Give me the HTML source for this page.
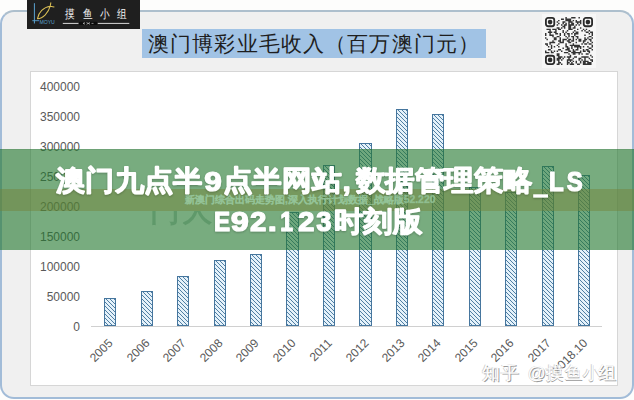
<!DOCTYPE html>
<html><head><meta charset="utf-8"><style>
*{margin:0;padding:0;box-sizing:border-box}
html,body{width:634px;height:400px;overflow:hidden;background:#fdfdfc;font-family:"Liberation Sans",sans-serif}
#frame{position:absolute;left:0px;top:10px;width:634px;height:389px;border:2px solid #a2bcd8;border-top-color:#adbfcd;border-radius:14px;background:#f0f0f0}
#logo{position:absolute;left:27px;top:0;width:113px;height:29px;background:#1f1f1f}
#title{position:absolute;left:142px;top:29px;width:344px;height:29px;background:#a1c3e5;color:#1e1e1e;font-size:20.5px;line-height:29px;padding-left:6px;letter-spacing:1.15px;white-space:nowrap}
#qrbg{position:absolute;left:542px;top:14px;width:54px;height:54px;background:#f7f7f7}
#qr{position:absolute;left:545px;top:17px}
#plot{position:absolute;left:30px;top:71px;width:588px;height:315px;background:#fff;border:1px solid #d6d6d6}
.yl{position:absolute;right:554px;width:60px;text-align:right;font-size:12px;line-height:14px;color:#595959}
#base{position:absolute;left:91px;top:325.5px;width:511px;height:1px;background:#d0d0d0}
.bar{position:absolute;width:12.3px;border:1.2px solid #46769e;background-color:#e4f1fa;background-image:linear-gradient(45deg,#4f7ea3 0%,#4f7ea3 18%,#e4f1fa 18%,#e4f1fa 50%,#4f7ea3 50%,#4f7ea3 68%,#e4f1fa 68%);background-size:4px 4px}
.xl{position:absolute;font-size:12px;line-height:14px;color:#595959;white-space:nowrap;transform:rotate(-45deg);transform-origin:100% 50%}
#wm{position:absolute;left:0;top:0}
#banner{position:absolute;left:0;top:148.5px;width:634px;height:101px;background:rgba(37,121,48,0.62);box-shadow:inset 0 1px 0 rgba(0,50,10,0.08)}
#band{position:absolute;left:0;top:188.5px;width:634px;height:22px;background:rgba(116,131,58,0.465)}
#sub{position:absolute;left:185px;top:194.2px;font-size:10.4px;line-height:12px;font-weight:bold;color:rgba(155,205,165,0.68);-webkit-text-stroke:0.5px rgba(155,205,165,0.5);white-space:nowrap}
#ttl{position:absolute;left:0;top:0}
</style></head><body>
<div id="frame"></div>
<div id="logo">
<svg width="113" height="29" viewBox="0 0 113 29">
<line x1="7.4" y1="3.2" x2="7.4" y2="23.5" stroke="#5aa2cf" stroke-width="1"/>
<line x1="5.3" y1="20.7" x2="12" y2="20.7" stroke="#5aa2cf" stroke-width="0.9"/>
<path d="M10.5 18.6 C11.5 12.5 16.5 7 23.2 6.2 L27 6.9 M10.5 18.6 C16 18.6 21.5 12.5 23.2 6.2 L23.8 2.8" fill="none" stroke="#d8bd55" stroke-width="1.05" stroke-linecap="round"/>
<text x="12.4" y="23.8" font-size="5.2" fill="#5aa2cf" font-family="Liberation Sans" textLength="15.4" lengthAdjust="spacingAndGlyphs">MOYU</text>
<g font-size="12.2" fill="#f2f2f2" font-family="Liberation Sans"><text transform="translate(38.4 17.5) scale(0.8 1)">摸</text><text transform="translate(56.0 17.5) scale(0.8 1)">鱼</text><text transform="translate(73.4 17.5) scale(0.8 1)">小</text><text transform="translate(90.0 17.5) scale(0.8 1)">组</text></g>
<line x1="35.8" y1="23.4" x2="51.7" y2="23.4" stroke="#eee" stroke-width="0.9"/>
<line x1="70.5" y1="23.4" x2="102.3" y2="23.4" stroke="#eee" stroke-width="0.9"/>
<rect x="51.7" y="21.7" width="18.8" height="3.4" rx="1.5" fill="#0d0d0d"/>
<path d="M56 23.4 L58 22.6 M56 23.4 L58 24.2 M59.5 22.5 L63 24.3 M59.5 24.3 L63 22.5 M64.5 23.4 L66.5 23.4" stroke="#ddd" stroke-width="0.6" fill="none"/>
</svg>
</div>
<div id="title">澳门博彩业毛收入（百万澳门元）</div>
<div id="qrbg"></div>
<svg id="qr" width="48" height="48" viewBox="0 0 47.5 47.5" fill="#333"><path d="M20.15 0.00h1.44v1.44h-1.44zM25.91 0.00h1.44v1.44h-1.44zM27.35 0.00h1.44v1.44h-1.44zM28.79 0.00h1.44v1.44h-1.44zM33.11 0.00h1.44v1.44h-1.44zM15.83 1.44h1.44v1.44h-1.44zM17.27 1.44h1.44v1.44h-1.44zM20.15 1.44h1.44v1.44h-1.44zM21.59 1.44h1.44v1.44h-1.44zM23.03 1.44h1.44v1.44h-1.44zM24.47 1.44h1.44v1.44h-1.44zM12.95 2.88h1.44v1.44h-1.44zM20.15 2.88h1.44v1.44h-1.44zM21.59 2.88h1.44v1.44h-1.44zM23.03 2.88h1.44v1.44h-1.44zM24.47 2.88h1.44v1.44h-1.44zM27.35 2.88h1.44v1.44h-1.44zM30.23 2.88h1.44v1.44h-1.44zM34.55 2.88h1.44v1.44h-1.44zM11.52 4.32h1.44v1.44h-1.44zM17.27 4.32h1.44v1.44h-1.44zM18.71 4.32h1.44v1.44h-1.44zM23.03 4.32h1.44v1.44h-1.44zM24.47 4.32h1.44v1.44h-1.44zM25.91 4.32h1.44v1.44h-1.44zM30.23 4.32h1.44v1.44h-1.44zM31.67 4.32h1.44v1.44h-1.44zM33.11 4.32h1.44v1.44h-1.44zM34.55 4.32h1.44v1.44h-1.44zM12.95 5.76h1.44v1.44h-1.44zM17.27 5.76h1.44v1.44h-1.44zM20.15 5.76h1.44v1.44h-1.44zM23.03 5.76h1.44v1.44h-1.44zM25.91 5.76h1.44v1.44h-1.44zM27.35 5.76h1.44v1.44h-1.44zM31.67 5.76h1.44v1.44h-1.44zM34.55 5.76h1.44v1.44h-1.44zM11.52 7.20h1.44v1.44h-1.44zM15.83 7.20h1.44v1.44h-1.44zM18.71 7.20h1.44v1.44h-1.44zM20.15 7.20h1.44v1.44h-1.44zM23.03 7.20h1.44v1.44h-1.44zM24.47 7.20h1.44v1.44h-1.44zM25.91 7.20h1.44v1.44h-1.44zM27.35 7.20h1.44v1.44h-1.44zM30.23 7.20h1.44v1.44h-1.44zM33.11 7.20h1.44v1.44h-1.44zM17.27 8.64h1.44v1.44h-1.44zM18.71 8.64h1.44v1.44h-1.44zM23.03 8.64h1.44v1.44h-1.44zM24.47 8.64h1.44v1.44h-1.44zM28.79 8.64h1.44v1.44h-1.44zM11.52 10.08h1.44v1.44h-1.44zM12.95 10.08h1.44v1.44h-1.44zM15.83 10.08h1.44v1.44h-1.44zM18.71 10.08h1.44v1.44h-1.44zM23.03 10.08h1.44v1.44h-1.44zM24.47 10.08h1.44v1.44h-1.44zM27.35 10.08h1.44v1.44h-1.44zM28.79 10.08h1.44v1.44h-1.44zM34.55 10.08h1.44v1.44h-1.44zM1.44 11.52h1.44v1.44h-1.44zM2.88 11.52h1.44v1.44h-1.44zM4.32 11.52h1.44v1.44h-1.44zM7.20 11.52h1.44v1.44h-1.44zM8.64 11.52h1.44v1.44h-1.44zM10.08 11.52h1.44v1.44h-1.44zM12.95 11.52h1.44v1.44h-1.44zM14.39 11.52h1.44v1.44h-1.44zM23.03 11.52h1.44v1.44h-1.44zM24.47 11.52h1.44v1.44h-1.44zM25.91 11.52h1.44v1.44h-1.44zM31.67 11.52h1.44v1.44h-1.44zM37.42 11.52h1.44v1.44h-1.44zM40.30 11.52h1.44v1.44h-1.44zM4.32 12.95h1.44v1.44h-1.44zM10.08 12.95h1.44v1.44h-1.44zM17.27 12.95h1.44v1.44h-1.44zM21.59 12.95h1.44v1.44h-1.44zM28.79 12.95h1.44v1.44h-1.44zM35.98 12.95h1.44v1.44h-1.44zM38.86 12.95h1.44v1.44h-1.44zM43.18 12.95h1.44v1.44h-1.44zM2.88 14.39h1.44v1.44h-1.44zM4.32 14.39h1.44v1.44h-1.44zM5.76 14.39h1.44v1.44h-1.44zM8.64 14.39h1.44v1.44h-1.44zM10.08 14.39h1.44v1.44h-1.44zM17.27 14.39h1.44v1.44h-1.44zM20.15 14.39h1.44v1.44h-1.44zM27.35 14.39h1.44v1.44h-1.44zM30.23 14.39h1.44v1.44h-1.44zM31.67 14.39h1.44v1.44h-1.44zM40.30 14.39h1.44v1.44h-1.44zM41.74 14.39h1.44v1.44h-1.44zM44.62 14.39h1.44v1.44h-1.44zM46.06 14.39h1.44v1.44h-1.44zM0.00 15.83h1.44v1.44h-1.44zM4.32 15.83h1.44v1.44h-1.44zM10.08 15.83h1.44v1.44h-1.44zM11.52 15.83h1.44v1.44h-1.44zM14.39 15.83h1.44v1.44h-1.44zM18.71 15.83h1.44v1.44h-1.44zM21.59 15.83h1.44v1.44h-1.44zM23.03 15.83h1.44v1.44h-1.44zM25.91 15.83h1.44v1.44h-1.44zM28.79 15.83h1.44v1.44h-1.44zM30.23 15.83h1.44v1.44h-1.44zM31.67 15.83h1.44v1.44h-1.44zM43.18 15.83h1.44v1.44h-1.44zM46.06 15.83h1.44v1.44h-1.44zM0.00 17.27h1.44v1.44h-1.44zM4.32 17.27h1.44v1.44h-1.44zM5.76 17.27h1.44v1.44h-1.44zM7.20 17.27h1.44v1.44h-1.44zM14.39 17.27h1.44v1.44h-1.44zM18.71 17.27h1.44v1.44h-1.44zM23.03 17.27h1.44v1.44h-1.44zM28.79 17.27h1.44v1.44h-1.44zM38.86 17.27h1.44v1.44h-1.44zM46.06 17.27h1.44v1.44h-1.44zM7.20 18.71h1.44v1.44h-1.44zM11.52 18.71h1.44v1.44h-1.44zM12.95 18.71h1.44v1.44h-1.44zM20.15 18.71h1.44v1.44h-1.44zM23.03 18.71h1.44v1.44h-1.44zM25.91 18.71h1.44v1.44h-1.44zM27.35 18.71h1.44v1.44h-1.44zM30.23 18.71h1.44v1.44h-1.44zM31.67 18.71h1.44v1.44h-1.44zM43.18 18.71h1.44v1.44h-1.44zM44.62 18.71h1.44v1.44h-1.44zM0.00 20.15h1.44v1.44h-1.44zM8.64 20.15h1.44v1.44h-1.44zM10.08 20.15h1.44v1.44h-1.44zM14.39 20.15h1.44v1.44h-1.44zM21.59 20.15h1.44v1.44h-1.44zM27.35 20.15h1.44v1.44h-1.44zM31.67 20.15h1.44v1.44h-1.44zM38.86 20.15h1.44v1.44h-1.44zM41.74 20.15h1.44v1.44h-1.44zM46.06 20.15h1.44v1.44h-1.44zM1.44 21.59h1.44v1.44h-1.44zM8.64 21.59h1.44v1.44h-1.44zM10.08 21.59h1.44v1.44h-1.44zM14.39 21.59h1.44v1.44h-1.44zM17.27 21.59h1.44v1.44h-1.44zM18.71 21.59h1.44v1.44h-1.44zM20.15 21.59h1.44v1.44h-1.44zM23.03 21.59h1.44v1.44h-1.44zM24.47 21.59h1.44v1.44h-1.44zM27.35 21.59h1.44v1.44h-1.44zM30.23 21.59h1.44v1.44h-1.44zM33.11 21.59h1.44v1.44h-1.44zM34.55 21.59h1.44v1.44h-1.44zM38.86 21.59h1.44v1.44h-1.44zM40.30 21.59h1.44v1.44h-1.44zM43.18 21.59h1.44v1.44h-1.44zM44.62 21.59h1.44v1.44h-1.44zM7.20 23.03h1.44v1.44h-1.44zM12.95 23.03h1.44v1.44h-1.44zM14.39 23.03h1.44v1.44h-1.44zM17.27 23.03h1.44v1.44h-1.44zM21.59 23.03h1.44v1.44h-1.44zM23.03 23.03h1.44v1.44h-1.44zM25.91 23.03h1.44v1.44h-1.44zM27.35 23.03h1.44v1.44h-1.44zM33.11 23.03h1.44v1.44h-1.44zM34.55 23.03h1.44v1.44h-1.44zM37.42 23.03h1.44v1.44h-1.44zM38.86 23.03h1.44v1.44h-1.44zM44.62 23.03h1.44v1.44h-1.44zM4.32 24.47h1.44v1.44h-1.44zM5.76 24.47h1.44v1.44h-1.44zM7.20 24.47h1.44v1.44h-1.44zM8.64 24.47h1.44v1.44h-1.44zM14.39 24.47h1.44v1.44h-1.44zM15.83 24.47h1.44v1.44h-1.44zM17.27 24.47h1.44v1.44h-1.44zM23.03 24.47h1.44v1.44h-1.44zM24.47 24.47h1.44v1.44h-1.44zM30.23 24.47h1.44v1.44h-1.44zM37.42 24.47h1.44v1.44h-1.44zM41.74 24.47h1.44v1.44h-1.44zM46.06 24.47h1.44v1.44h-1.44zM0.00 25.91h1.44v1.44h-1.44zM1.44 25.91h1.44v1.44h-1.44zM4.32 25.91h1.44v1.44h-1.44zM12.95 25.91h1.44v1.44h-1.44zM20.15 25.91h1.44v1.44h-1.44zM27.35 25.91h1.44v1.44h-1.44zM35.98 25.91h1.44v1.44h-1.44zM38.86 25.91h1.44v1.44h-1.44zM40.30 25.91h1.44v1.44h-1.44zM43.18 25.91h1.44v1.44h-1.44zM44.62 25.91h1.44v1.44h-1.44zM1.44 27.35h1.44v1.44h-1.44zM5.76 27.35h1.44v1.44h-1.44zM11.52 27.35h1.44v1.44h-1.44zM20.15 27.35h1.44v1.44h-1.44zM24.47 27.35h1.44v1.44h-1.44zM25.91 27.35h1.44v1.44h-1.44zM27.35 27.35h1.44v1.44h-1.44zM28.79 27.35h1.44v1.44h-1.44zM30.23 27.35h1.44v1.44h-1.44zM31.67 27.35h1.44v1.44h-1.44zM33.11 27.35h1.44v1.44h-1.44zM46.06 27.35h1.44v1.44h-1.44zM2.88 28.79h1.44v1.44h-1.44zM5.76 28.79h1.44v1.44h-1.44zM8.64 28.79h1.44v1.44h-1.44zM12.95 28.79h1.44v1.44h-1.44zM20.15 28.79h1.44v1.44h-1.44zM21.59 28.79h1.44v1.44h-1.44zM25.91 28.79h1.44v1.44h-1.44zM28.79 28.79h1.44v1.44h-1.44zM30.23 28.79h1.44v1.44h-1.44zM31.67 28.79h1.44v1.44h-1.44zM33.11 28.79h1.44v1.44h-1.44zM34.55 28.79h1.44v1.44h-1.44zM37.42 28.79h1.44v1.44h-1.44zM41.74 28.79h1.44v1.44h-1.44zM46.06 28.79h1.44v1.44h-1.44zM5.76 30.23h1.44v1.44h-1.44zM17.27 30.23h1.44v1.44h-1.44zM21.59 30.23h1.44v1.44h-1.44zM23.03 30.23h1.44v1.44h-1.44zM25.91 30.23h1.44v1.44h-1.44zM31.67 30.23h1.44v1.44h-1.44zM34.55 30.23h1.44v1.44h-1.44zM43.18 30.23h1.44v1.44h-1.44zM44.62 30.23h1.44v1.44h-1.44zM2.88 31.67h1.44v1.44h-1.44zM4.32 31.67h1.44v1.44h-1.44zM12.95 31.67h1.44v1.44h-1.44zM14.39 31.67h1.44v1.44h-1.44zM20.15 31.67h1.44v1.44h-1.44zM21.59 31.67h1.44v1.44h-1.44zM23.03 31.67h1.44v1.44h-1.44zM27.35 31.67h1.44v1.44h-1.44zM30.23 31.67h1.44v1.44h-1.44zM31.67 31.67h1.44v1.44h-1.44zM37.42 31.67h1.44v1.44h-1.44zM40.30 31.67h1.44v1.44h-1.44zM41.74 31.67h1.44v1.44h-1.44zM46.06 31.67h1.44v1.44h-1.44zM0.00 33.11h1.44v1.44h-1.44zM5.76 33.11h1.44v1.44h-1.44zM8.64 33.11h1.44v1.44h-1.44zM11.52 33.11h1.44v1.44h-1.44zM15.83 33.11h1.44v1.44h-1.44zM23.03 33.11h1.44v1.44h-1.44zM24.47 33.11h1.44v1.44h-1.44zM27.35 33.11h1.44v1.44h-1.44zM28.79 33.11h1.44v1.44h-1.44zM34.55 33.11h1.44v1.44h-1.44zM37.42 33.11h1.44v1.44h-1.44zM38.86 33.11h1.44v1.44h-1.44zM41.74 33.11h1.44v1.44h-1.44zM43.18 33.11h1.44v1.44h-1.44zM0.00 34.55h1.44v1.44h-1.44zM1.44 34.55h1.44v1.44h-1.44zM2.88 34.55h1.44v1.44h-1.44zM5.76 34.55h1.44v1.44h-1.44zM7.20 34.55h1.44v1.44h-1.44zM18.71 34.55h1.44v1.44h-1.44zM20.15 34.55h1.44v1.44h-1.44zM21.59 34.55h1.44v1.44h-1.44zM25.91 34.55h1.44v1.44h-1.44zM27.35 34.55h1.44v1.44h-1.44zM28.79 34.55h1.44v1.44h-1.44zM30.23 34.55h1.44v1.44h-1.44zM31.67 34.55h1.44v1.44h-1.44zM33.11 34.55h1.44v1.44h-1.44zM34.55 34.55h1.44v1.44h-1.44zM43.18 34.55h1.44v1.44h-1.44zM11.52 35.98h1.44v1.44h-1.44zM12.95 35.98h1.44v1.44h-1.44zM23.03 35.98h1.44v1.44h-1.44zM27.35 35.98h1.44v1.44h-1.44zM28.79 35.98h1.44v1.44h-1.44zM33.11 35.98h1.44v1.44h-1.44zM35.98 35.98h1.44v1.44h-1.44zM40.30 35.98h1.44v1.44h-1.44zM41.74 35.98h1.44v1.44h-1.44zM11.52 37.42h1.44v1.44h-1.44zM12.95 37.42h1.44v1.44h-1.44zM24.47 37.42h1.44v1.44h-1.44zM44.62 37.42h1.44v1.44h-1.44zM12.95 38.86h1.44v1.44h-1.44zM14.39 38.86h1.44v1.44h-1.44zM15.83 38.86h1.44v1.44h-1.44zM18.71 38.86h1.44v1.44h-1.44zM21.59 38.86h1.44v1.44h-1.44zM23.03 38.86h1.44v1.44h-1.44zM24.47 38.86h1.44v1.44h-1.44zM28.79 38.86h1.44v1.44h-1.44zM30.23 38.86h1.44v1.44h-1.44zM35.98 38.86h1.44v1.44h-1.44zM37.42 38.86h1.44v1.44h-1.44zM38.86 38.86h1.44v1.44h-1.44zM40.30 38.86h1.44v1.44h-1.44zM41.74 38.86h1.44v1.44h-1.44zM46.06 38.86h1.44v1.44h-1.44zM11.52 40.30h1.44v1.44h-1.44zM12.95 40.30h1.44v1.44h-1.44zM14.39 40.30h1.44v1.44h-1.44zM17.27 40.30h1.44v1.44h-1.44zM23.03 40.30h1.44v1.44h-1.44zM27.35 40.30h1.44v1.44h-1.44zM33.11 40.30h1.44v1.44h-1.44zM34.55 40.30h1.44v1.44h-1.44zM38.86 40.30h1.44v1.44h-1.44zM43.18 40.30h1.44v1.44h-1.44zM11.52 41.74h1.44v1.44h-1.44zM12.95 41.74h1.44v1.44h-1.44zM15.83 41.74h1.44v1.44h-1.44zM21.59 41.74h1.44v1.44h-1.44zM23.03 41.74h1.44v1.44h-1.44zM24.47 41.74h1.44v1.44h-1.44zM25.91 41.74h1.44v1.44h-1.44zM33.11 41.74h1.44v1.44h-1.44zM35.98 41.74h1.44v1.44h-1.44zM38.86 41.74h1.44v1.44h-1.44zM44.62 41.74h1.44v1.44h-1.44zM46.06 41.74h1.44v1.44h-1.44zM12.95 43.18h1.44v1.44h-1.44zM21.59 43.18h1.44v1.44h-1.44zM24.47 43.18h1.44v1.44h-1.44zM27.35 43.18h1.44v1.44h-1.44zM30.23 43.18h1.44v1.44h-1.44zM34.55 43.18h1.44v1.44h-1.44zM37.42 43.18h1.44v1.44h-1.44zM38.86 43.18h1.44v1.44h-1.44zM40.30 43.18h1.44v1.44h-1.44zM41.74 43.18h1.44v1.44h-1.44zM46.06 43.18h1.44v1.44h-1.44zM12.95 44.62h1.44v1.44h-1.44zM14.39 44.62h1.44v1.44h-1.44zM21.59 44.62h1.44v1.44h-1.44zM23.03 44.62h1.44v1.44h-1.44zM25.91 44.62h1.44v1.44h-1.44zM30.23 44.62h1.44v1.44h-1.44zM34.55 44.62h1.44v1.44h-1.44zM37.42 44.62h1.44v1.44h-1.44zM38.86 44.62h1.44v1.44h-1.44zM41.74 44.62h1.44v1.44h-1.44zM43.18 44.62h1.44v1.44h-1.44zM44.62 44.62h1.44v1.44h-1.44zM11.52 46.06h1.44v1.44h-1.44zM12.95 46.06h1.44v1.44h-1.44zM15.83 46.06h1.44v1.44h-1.44zM21.59 46.06h1.44v1.44h-1.44zM24.47 46.06h1.44v1.44h-1.44zM25.91 46.06h1.44v1.44h-1.44zM27.35 46.06h1.44v1.44h-1.44zM31.67 46.06h1.44v1.44h-1.44zM33.11 46.06h1.44v1.44h-1.44zM37.42 46.06h1.44v1.44h-1.44zM38.86 46.06h1.44v1.44h-1.44zM40.30 46.06h1.44v1.44h-1.44zM41.74 46.06h1.44v1.44h-1.44zM43.18 46.06h1.44v1.44h-1.44zM44.62 46.06h1.44v1.44h-1.44z"/><rect x="0.90" y="0.90" width="8.28" height="8.28" rx="2.2" fill="none" stroke="#2a2a2a" stroke-width="1.8"/><circle cx="5.04" cy="5.04" r="2.3" fill="#2a2a2a"/><rect x="38.32" y="0.90" width="8.28" height="8.28" rx="2.2" fill="none" stroke="#2a2a2a" stroke-width="1.8"/><circle cx="42.46" cy="5.04" r="2.3" fill="#2a2a2a"/><rect x="0.90" y="38.32" width="8.28" height="8.28" rx="2.2" fill="none" stroke="#2a2a2a" stroke-width="1.8"/><circle cx="5.04" cy="42.46" r="2.3" fill="#2a2a2a"/></svg>
<div id="plot"></div>
<div class="yl" style="top:79.90px">400000</div><div class="yl" style="top:109.90px">350000</div><div class="yl" style="top:139.90px">300000</div><div class="yl" style="top:169.90px">250000</div><div class="yl" style="top:199.90px">200000</div><div class="yl" style="top:229.90px">150000</div><div class="yl" style="top:259.90px">100000</div><div class="yl" style="top:289.90px">50000</div><div class="yl" style="top:319.90px">0</div>
<div id="base"></div>
<div class="bar" style="left:104.15px;top:298.37px;height:27.63px"></div><div class="bar" style="left:140.60px;top:291.49px;height:34.51px"></div><div class="bar" style="left:177.05px;top:276.19px;height:49.81px"></div><div class="bar" style="left:213.50px;top:260.10px;height:65.90px"></div><div class="bar" style="left:249.95px;top:253.77px;height:72.23px"></div><div class="bar" style="left:286.40px;top:212.25px;height:113.75px"></div><div class="bar" style="left:322.85px;top:164.57px;height:161.43px"></div><div class="bar" style="left:359.30px;top:142.86px;height:183.14px"></div><div class="bar" style="left:395.75px;top:108.88px;height:217.12px"></div><div class="bar" style="left:432.20px;top:114.37px;height:211.63px"></div><div class="bar" style="left:468.65px;top:186.91px;height:139.09px"></div><div class="bar" style="left:505.10px;top:191.52px;height:134.48px"></div><div class="bar" style="left:541.55px;top:166.04px;height:159.96px"></div><div class="bar" style="left:578.00px;top:175.40px;height:150.60px"></div>
<div class="xl" style="right:522.90px;top:334.00px">2005</div><div class="xl" style="right:486.45px;top:334.00px">2006</div><div class="xl" style="right:450.00px;top:334.00px">2007</div><div class="xl" style="right:413.55px;top:334.00px">2008</div><div class="xl" style="right:377.10px;top:334.00px">2009</div><div class="xl" style="right:340.65px;top:334.00px">2010</div><div class="xl" style="right:304.20px;top:334.00px">2011</div><div class="xl" style="right:267.75px;top:334.00px">2012</div><div class="xl" style="right:231.30px;top:334.00px">2013</div><div class="xl" style="right:194.85px;top:334.00px">2014</div><div class="xl" style="right:158.40px;top:334.00px">2015</div><div class="xl" style="right:121.95px;top:334.00px">2016</div><div class="xl" style="right:85.50px;top:334.00px">2017</div><div class="xl" style="right:49.05px;top:334.00px">2018.10</div>
<svg id="wm" width="634" height="400" viewBox="0 0 634 400"><g font-family="Liberation Sans, sans-serif" font-size="18" fill="#fff">
<g fill="#9a9a9a" transform="translate(0.8,0.8)"><text x="481.8 500.8 527.6 545.6 564.6 582.6 598.4" y="379.3">知乎@摸鱼小组</text></g>
<g fill="#d0d0d0" transform="translate(-0.5,-0.5)"><text x="481.8 500.8 527.6 545.6 564.6 582.6 598.4" y="379.3">知乎@摸鱼小组</text></g>
<text x="481.8 500.8 527.6 545.6 564.6 582.6 598.4" y="379.3">知乎@摸鱼小组</text></g></svg>
<div id="banner"></div>
<div id="band"></div>
<div style="position:absolute;left:148px;top:211px;width:66px;height:15px;overflow:hidden;filter:blur(0.6px)"><div style="position:absolute;left:2px;top:-17px;font-size:30px;line-height:34px;font-weight:bold;color:rgba(40,110,60,0.3);white-space:nowrap;letter-spacing:2px">门大</div></div>
<div id="sub">新澳门综合出码走势图,深入执行计划数据_战略版52.220</div>
<svg id="ttl" width="634" height="400" viewBox="0 0 634 400"><g font-family="Liberation Sans, sans-serif" font-weight="bold" font-size="27.6" fill="#fff" stroke="#fff" stroke-width="1.2" stroke-linejoin="round" filter="url(#sh)">
<filter id="sh" x="-5%" y="-20%" width="110%" height="140%"><feDropShadow dx="0" dy="1" stdDeviation="1" flood-color="#000" flood-opacity="0.25"/></filter>
<text x="56.05" y="190.20" textLength="146.35" lengthAdjust="spacingAndGlyphs">澳门九点半</text>
<text x="204.20" y="190.60" textLength="17.51" lengthAdjust="spacingAndGlyphs">9</text>
<text x="222.84" y="190.20" textLength="118.46" lengthAdjust="spacingAndGlyphs">点半网站</text>
<text x="342.42" y="190.60" textLength="8.31" lengthAdjust="spacingAndGlyphs">,</text>
<text x="355.56" y="190.20" textLength="177.24" lengthAdjust="spacingAndGlyphs">数据管理策略</text>
<text x="549.12" y="190.60" textLength="14.75" lengthAdjust="spacingAndGlyphs">L</text>
<text x="566.80" y="190.60" textLength="15.95" lengthAdjust="spacingAndGlyphs">S</text>
<text x="213.92" y="231.40" textLength="16.13" lengthAdjust="spacingAndGlyphs">E</text>
<text x="230.80" y="231.40" textLength="18.02" lengthAdjust="spacingAndGlyphs">9</text>
<text x="250.10" y="231.40" textLength="16.38" lengthAdjust="spacingAndGlyphs">2</text>
<text x="267.72" y="231.40" textLength="9.08" lengthAdjust="spacingAndGlyphs">.</text>
<text x="280.17" y="231.40" textLength="12.73" lengthAdjust="spacingAndGlyphs">1</text>
<text x="298.00" y="231.40" textLength="16.49" lengthAdjust="spacingAndGlyphs">2</text>
<text x="316.30" y="231.40" textLength="15.26" lengthAdjust="spacingAndGlyphs">3</text>
<text x="334.05" y="231.20" textLength="88.25" lengthAdjust="spacingAndGlyphs">时刻版</text>
<rect x="533.2" y="194.3" width="14.8" height="3.3" stroke="none"/>
</g></svg>
</body></html>
